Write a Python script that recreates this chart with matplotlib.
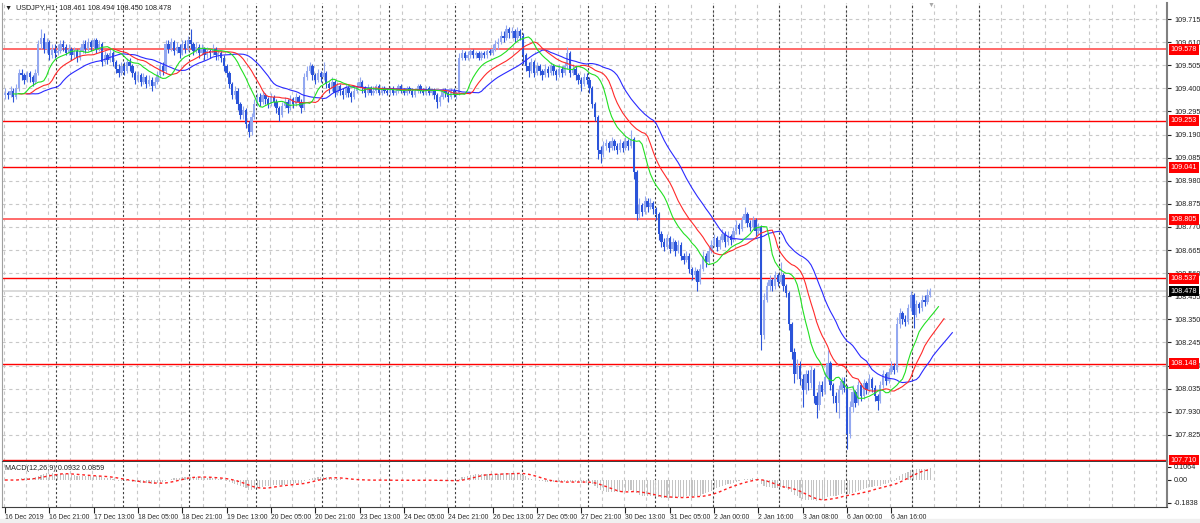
"""USDJPY H1 chart: candles, Alligator, support/resistance levels and MACD panel."""

import matplotlib

matplotlib.use("Agg")
import matplotlib.pyplot as plt
import numpy as np
import pandas as pd
from matplotlib.patches import Rectangle

plt.rcParams["font.family"] = ["Liberation Sans", "DejaVu Sans"]

# ---- data (hourly bars, 16 Dec 2019 05:00 onwards) ----
FIRST_OPEN = 109.37
CLOSE = [
    # 16 Dec
    109.38, 109.37, 109.39, 109.36, 109.40, 109.47, 109.46, 109.44, 109.47, 109.45, 109.43, 109.47, 109.60, 109.63, 109.58, 109.61, 109.55, 109.58, 109.56,
    # 17 Dec
    109.57, 109.60, 109.59, 109.56, 109.58, 109.55, 109.57, 109.54, 109.57, 109.60, 109.58, 109.61, 109.59, 109.62, 109.58, 109.60, 109.52, 109.55, 109.53, 109.56, 109.52, 109.49, 109.47, 109.50,
    # 18 Dec
    109.48, 109.52, 109.50, 109.47, 109.44, 109.46, 109.43, 109.45, 109.42, 109.44, 109.41, 109.43, 109.46, 109.50, 109.48, 109.60, 109.58, 109.61, 109.57, 109.59, 109.56, 109.60, 109.58, 109.62,
    # 19 Dec
    109.60, 109.57, 109.59, 109.56, 109.58, 109.55, 109.57, 109.56, 109.58, 109.55, 109.56, 109.54, 109.50, 109.47, 109.42, 109.37, 109.39, 109.33, 109.28, 109.30, 109.24, 109.20, 109.27, 109.33,
    # 20 Dec
    109.36, 109.34, 109.37, 109.35, 109.33, 109.36, 109.34, 109.31, 109.28, 109.32, 109.34, 109.31, 109.35, 109.33, 109.36, 109.34, 109.31, 109.45, 109.48, 109.50, 109.46, 109.44, 109.47, 109.45,
    # 23 Dec
    109.47, 109.42, 109.40, 109.43, 109.38, 109.41, 109.39, 109.37, 109.40, 109.38, 109.36, 109.39, 109.41, 109.43, 109.40, 109.38, 109.40, 109.38, 109.39, 109.41, 109.38, 109.40, 109.39, 109.38,
    # 24 Dec
    109.40, 109.38, 109.39, 109.41, 109.39, 109.38, 109.40, 109.39, 109.37, 109.39, 109.41, 109.39, 109.38, 109.40, 109.38, 109.39, 109.37, 109.34, 109.36, 109.39, 109.38, 109.36, 109.39, 109.37,
    # 26 Dec
    109.38, 109.54, 109.56, 109.54, 109.55, 109.57, 109.55, 109.56, 109.54, 109.56, 109.55, 109.57, 109.56, 109.58, 109.60, 109.61, 109.64, 109.63, 109.67, 109.65, 109.66, 109.63, 109.66, 109.64,
    # 27 Dec
    109.55, 109.50, 109.48, 109.52, 109.47, 109.50, 109.48, 109.46, 109.49, 109.47, 109.50, 109.48, 109.46, 109.49, 109.47, 109.50, 109.56, 109.47, 109.49, 109.46, 109.44, 109.42, 109.45, 109.44,
    # 30 Dec
    109.40, 109.33, 109.27, 109.12, 109.10, 109.14, 109.15, 109.13, 109.16, 109.14, 109.12, 109.15, 109.13, 109.16, 109.14, 109.17, 109.02, 108.83, 108.87, 108.84, 108.89, 108.86, 108.88, 108.85,
    # 31 Dec
    108.83, 108.74, 108.70, 108.68, 108.72, 108.67, 108.70, 108.66, 108.69, 108.64, 108.62, 108.64, 108.58, 108.55, 108.57, 108.52, 108.58, 108.64, 108.61, 108.66, 108.69,
    # 2 Jan
    108.72, 108.68, 108.71, 108.74, 108.70, 108.73, 108.71, 108.75, 108.78, 108.76, 108.80, 108.83, 108.79, 108.77, 108.80, 108.75, 108.77, 108.28, 108.44, 108.50, 108.53, 108.50, 108.55, 108.52,
    # 3 Jan
    108.55, 108.50, 108.47, 108.33, 108.20, 108.10, 108.14, 108.08, 108.03, 108.10, 108.06, 108.12, 108.00, 107.96, 108.05, 108.02, 108.09, 108.15, 108.05, 108.00, 107.97, 108.03, 108.07, 108.04,
    # 6 Jan
    107.83, 107.95, 108.02, 107.97, 108.05, 108.00, 108.06, 108.03, 108.08, 108.04, 108.00, 107.98, 108.05, 108.10, 108.07, 108.11, 108.14, 108.12, 108.33, 108.38, 108.35, 108.34, 108.40, 108.46,
    # 7 Jan
    108.37, 108.42, 108.40, 108.44, 108.43, 108.461, 108.478,
]
HIGH = [
    109.40, 109.39, 109.41, 109.40, 109.42, 109.49, 109.49, 109.47, 109.48, 109.48, 109.46, 109.49, 109.62, 109.67, 109.65, 109.63, 109.62, 109.60, 109.60,
    109.60, 109.62, 109.62, 109.60, 109.60, 109.59, 109.59, 109.58, 109.59, 109.62, 109.62, 109.63, 109.62, 109.63, 109.63, 109.62, 109.61, 109.57, 109.56, 109.58, 109.57, 109.53, 109.51, 109.52,
    109.52, 109.54, 109.54, 109.51, 109.48, 109.48, 109.47, 109.47, 109.46, 109.46, 109.45, 109.45, 109.48, 109.52, 109.52, 109.62, 109.62, 109.63, 109.62, 109.61, 109.60, 109.62, 109.62, 109.64,
    109.67, 109.61, 109.61, 109.60, 109.60, 109.59, 109.59, 109.58, 109.60, 109.59, 109.58, 109.57, 109.55, 109.51, 109.48, 109.43, 109.41, 109.40, 109.34, 109.32, 109.31, 109.25, 109.29, 109.35,
    109.38, 109.38, 109.39, 109.38, 109.36, 109.38, 109.37, 109.35, 109.32, 109.34, 109.36, 109.35, 109.37, 109.36, 109.38, 109.37, 109.35, 109.47, 109.50, 109.52, 109.51, 109.47, 109.49, 109.48,
    109.52, 109.48, 109.43, 109.45, 109.44, 109.43, 109.42, 109.40, 109.42, 109.41, 109.39, 109.41, 109.43, 109.45, 109.44, 109.41, 109.42, 109.41, 109.41, 109.42, 109.42, 109.41, 109.41, 109.40,
    109.41, 109.41, 109.40, 109.42, 109.42, 109.40, 109.41, 109.41, 109.40, 109.40, 109.42, 109.42, 109.40, 109.41, 109.41, 109.40, 109.40, 109.38, 109.37, 109.40, 109.40, 109.39, 109.40, 109.40,
    109.39, 109.56, 109.58, 109.57, 109.57, 109.58, 109.58, 109.57, 109.57, 109.57, 109.57, 109.58, 109.58, 109.60, 109.62, 109.63, 109.66, 109.66, 109.69, 109.68, 109.68, 109.67, 109.68, 109.67,
    109.65, 109.56, 109.52, 109.54, 109.53, 109.52, 109.51, 109.49, 109.51, 109.50, 109.52, 109.51, 109.49, 109.51, 109.50, 109.52, 109.59, 109.57, 109.51, 109.50, 109.47, 109.45, 109.47, 109.47,
    109.45, 109.41, 109.34, 109.28, 109.14, 109.16, 109.17, 109.16, 109.18, 109.17, 109.15, 109.17, 109.16, 109.18, 109.17, 109.21, 109.18, 109.03, 108.90, 108.88, 108.91, 108.90, 108.90, 108.89,
    108.86, 108.84, 108.75, 108.72, 108.74, 108.73, 108.72, 108.71, 108.71, 108.70, 108.65, 108.66, 108.65, 108.59, 108.59, 108.58, 108.60, 108.66, 108.65, 108.68, 108.71,
    108.74, 108.73, 108.73, 108.76, 108.75, 108.75, 108.74, 108.77, 108.80, 108.79, 108.82, 108.86, 108.84, 108.80, 108.82, 108.81, 108.79, 108.78, 108.47, 108.52, 108.55, 108.54, 108.57, 108.56,
    108.61, 108.56, 108.51, 108.48, 108.34, 108.22, 108.17, 108.16, 108.10, 108.12, 108.12, 108.14, 108.13, 108.02, 108.07, 108.07, 108.11, 108.21, 108.16, 108.06, 108.02, 108.05, 108.09, 108.09,
    108.05, 107.98, 108.05, 108.03, 108.07, 108.06, 108.08, 108.07, 108.10, 108.09, 108.05, 108.01, 108.07, 108.12, 108.11, 108.13, 108.16, 108.15, 108.36, 108.40, 108.39, 108.37, 108.42, 108.48,
    108.47, 108.44, 108.43, 108.46, 108.46, 108.49, 108.494,
]
LOW = [
    109.35, 109.35, 109.36, 109.34, 109.35, 109.39, 109.44, 109.42, 109.43, 109.43, 109.41, 109.42, 109.46, 109.58, 109.56, 109.56, 109.53, 109.54, 109.54,
    109.55, 109.56, 109.57, 109.55, 109.55, 109.53, 109.54, 109.52, 109.53, 109.56, 109.56, 109.57, 109.57, 109.58, 109.56, 109.57, 109.50, 109.51, 109.51, 109.52, 109.50, 109.47, 109.45, 109.46,
    109.46, 109.47, 109.48, 109.45, 109.42, 109.43, 109.41, 109.42, 109.40, 109.41, 109.39, 109.40, 109.42, 109.45, 109.46, 109.47, 109.56, 109.57, 109.55, 109.56, 109.54, 109.55, 109.56, 109.57,
    109.58, 109.55, 109.56, 109.54, 109.55, 109.53, 109.54, 109.54, 109.55, 109.53, 109.53, 109.52, 109.48, 109.45, 109.40, 109.35, 109.35, 109.30, 109.26, 109.26, 109.22, 109.18, 109.19, 109.26,
    109.32, 109.32, 109.33, 109.33, 109.31, 109.32, 109.32, 109.29, 109.25, 109.27, 109.31, 109.29, 109.30, 109.31, 109.32, 109.32, 109.29, 109.30, 109.44, 109.47, 109.44, 109.42, 109.43, 109.43,
    109.44, 109.40, 109.38, 109.39, 109.36, 109.37, 109.37, 109.35, 109.36, 109.36, 109.34, 109.35, 109.38, 109.40, 109.38, 109.36, 109.37, 109.37, 109.37, 109.38, 109.37, 109.37, 109.38, 109.37,
    109.37, 109.37, 109.37, 109.38, 109.38, 109.37, 109.37, 109.38, 109.36, 109.36, 109.38, 109.38, 109.37, 109.37, 109.37, 109.37, 109.35, 109.31, 109.32, 109.35, 109.36, 109.34, 109.35, 109.36,
    109.35, 109.37, 109.53, 109.53, 109.53, 109.54, 109.54, 109.54, 109.53, 109.53, 109.54, 109.54, 109.55, 109.55, 109.57, 109.58, 109.60, 109.61, 109.62, 109.63, 109.63, 109.61, 109.62, 109.62,
    109.51, 109.48, 109.45, 109.47, 109.45, 109.46, 109.46, 109.44, 109.45, 109.45, 109.46, 109.46, 109.44, 109.45, 109.45, 109.46, 109.49, 109.45, 109.46, 109.44, 109.42, 109.39, 109.41, 109.42,
    109.38, 109.31, 109.25, 109.08, 109.06, 109.09, 109.12, 109.11, 109.12, 109.12, 109.10, 109.11, 109.11, 109.12, 109.12, 109.13, 108.99, 108.80, 108.81, 108.82, 108.83, 108.84, 108.85, 108.83,
    108.80, 108.71, 108.68, 108.66, 108.67, 108.65, 108.66, 108.64, 108.65, 108.62, 108.60, 108.61, 108.56, 108.53, 108.53, 108.48, 108.51, 108.57, 108.59, 108.60, 108.65,
    108.68, 108.66, 108.67, 108.70, 108.68, 108.69, 108.69, 108.70, 108.74, 108.74, 108.75, 108.79, 108.77, 108.75, 108.76, 108.73, 108.74, 108.21, 108.26, 108.43, 108.48, 108.48, 108.49, 108.50,
    108.51, 108.48, 108.45, 108.30, 108.17, 108.06, 108.08, 108.05, 107.95, 108.01, 108.03, 108.04, 107.97, 107.90, 107.94, 108.00, 108.01, 108.07, 108.03, 107.97, 107.93, 107.90, 108.01, 108.02,
    107.76, 107.81, 107.93, 107.95, 107.96, 107.98, 107.99, 108.01, 108.02, 108.02, 107.98, 107.94, 107.97, 108.04, 108.05, 108.06, 108.10, 108.10, 108.11, 108.31, 108.33, 108.32, 108.33, 108.39,
    108.31, 108.36, 108.38, 108.39, 108.41, 108.42, 108.450,
]

LEVELS = [109.578, 109.253, 109.041, 108.805, 108.537, 108.148, 107.710]
SOFT_LEVELS = [109.578, 108.805]
LAST_PRICE = 108.478

PRICE_TICKS = [107.825, 107.930, 108.035, 108.140, 108.245, 108.350, 108.455, 108.560, 108.665,
               108.770, 108.875, 108.980, 109.085, 109.190, 109.295, 109.400, 109.505, 109.610, 109.715]
MACD_TICKS = [0.1064, 0.0, -0.1838]
MACD_TICK_LABELS = ["0.1064", "0.00", "-0.1838"]

TIME_POS = list(range(0, 321, 16))
TIME_LABELS = ["16 Dec 2019", "16 Dec 21:00", "17 Dec 13:00", "18 Dec 05:00", "18 Dec 21:00",
               "19 Dec 13:00", "20 Dec 05:00", "20 Dec 21:00", "23 Dec 13:00", "24 Dec 05:00",
               "24 Dec 21:00", "26 Dec 13:00", "27 Dec 05:00", "27 Dec 21:00", "30 Dec 13:00",
               "31 Dec 05:00", "2 Jan 00:00", "2 Jan 16:00", "3 Jan 08:00", "6 Jan 00:00", "6 Jan 16:00"]
DAY_STARTS = [19, 43, 67, 91, 115, 139, 163, 187, 211, 235, 256, 280, 304, 328, 352]

BULL = "#93a8f0"
BEAR = "#2b54d9"
W, H = 1200, 523
FS = 5.2
FS_X = 4.9


def smma(values, n):
    return pd.Series(values).ewm(alpha=1.0 / n, adjust=False).mean().values


def main():
    close = np.array(CLOSE)
    high = np.array(HIGH)
    low = np.array(LOW)
    opn = np.concatenate([[FIRST_OPEN], close[:-1]])
    idx = np.arange(len(close))

    fig = plt.figure(figsize=(W / 100, H / 100), dpi=100)
    fig.patches.append(Rectangle((0, 0), 1, 4 / H, transform=fig.transFigure, color="#f0f0f0", zorder=0))

    def px_axes(x0, y0, x1, y1):
        return fig.add_axes([x0 / W, 1 - y1 / H, (x1 - x0) / W, (y1 - y0) / H])

    ax = px_axes(2, 3, 1167, 461)
    am = px_axes(2, 462, 1167, 507)
    xlim = (-1.08, 419.5)

    for a in (ax, am):
        a.set_xlim(*xlim)
        for k in range(0, 54):
            a.axvline(8 * k - 0.5, color="#c8c8c8", lw=0.8, ls=(0, (3, 3)), zorder=0)
        for d in DAY_STARTS:
            a.axvline(d - 0.5, color="#404040", lw=0.8, ls=(0, (2, 2)), zorder=0.5)
        a.spines["top"].set_visible(False)
        a.spines["left"].set_color("#a0a0a0")
        a.spines["right"].set_color("#808080")
        a.spines["right"].set_linewidth(1.5)
        a.spines["bottom"].set_color("#404040")
        a.yaxis.tick_right()
        a.tick_params(axis="y", length=3, width=0.8, labelsize=FS, pad=2, colors="#202020")

    # ---- main price panel ----
    ax.set_ylim(107.706, 109.788)
    ax.set_yticks(PRICE_TICKS)
    ax.set_yticklabels([f"{t:.3f}" for t in PRICE_TICKS])
    ax.set_xticks([])
    for t in PRICE_TICKS:
        ax.axhline(t, color="#c8c8c8", lw=0.8, ls=(0, (3, 3)), zorder=0)

    for lvl in LEVELS:
        soft = lvl in SOFT_LEVELS
        ax.axhline(lvl, color="#ff6a6a" if soft else "#ff0000", lw=1.4 if soft else 1.0, zorder=1)
        ax.text(1.003, lvl, f"{lvl:.3f}", transform=ax.get_yaxis_transform(), ha="left", va="center",
                fontsize=FS, color="white", clip_on=False, zorder=5,
                bbox=dict(boxstyle="square,pad=0.25", fc="#ff0000", ec="none"))
    ax.axhline(LAST_PRICE, color="#d4d4d4", lw=1.2, zorder=0.8)
    ax.text(1.003, LAST_PRICE, f"{LAST_PRICE:.3f}", transform=ax.get_yaxis_transform(), ha="left",
            va="center", fontsize=FS, color="white", clip_on=False, zorder=5,
            bbox=dict(boxstyle="square,pad=0.25", fc="black", ec="none"))

    up = close >= opn
    for mask, col in ((up, BULL), (~up, BEAR)):
        ax.vlines(idx[mask], low[mask], high[mask], color=col, lw=0.8, zorder=2)
        body = np.maximum(np.abs(close[mask] - opn[mask]), 0.003)
        ax.bar(idx[mask], body, bottom=np.minimum(close[mask], opn[mask]), width=0.85,
               color=col, lw=0, zorder=2)

    # Alligator (SMMA of median price, shifted forward)
    median = (high + low) / 2
    ax.plot(idx + 8, smma(median, 13), color="#2a2aff", lw=0.8, zorder=3)
    ax.plot(idx + 5, smma(median, 8), color="#ff2a2a", lw=0.8, zorder=3)
    ax.plot(idx + 3, smma(median, 5), color="#22e022", lw=0.8, zorder=3)

    # ---- MACD panel ----
    cs = pd.Series(close)
    macd = cs.ewm(span=12, adjust=False).mean() - cs.ewm(span=26, adjust=False).mean()
    signal = macd.rolling(9, min_periods=1).mean()
    am.bar(idx, macd.values, width=0.4, color="#c4c4c4", lw=0, zorder=2)
    am.plot(idx, signal.values, color="#ff2020", lw=1, ls=(0, (2, 2)), zorder=3)
    am.set_ylim(-0.219, 0.146)
    am.set_yticks(MACD_TICKS)
    am.set_yticklabels(MACD_TICK_LABELS)
    am.set_xticks(TIME_POS)
    am.set_xticklabels(TIME_LABELS, ha="left", fontsize=FS_X)
    am.tick_params(axis="x", length=4, width=0.8, pad=1, colors="#202020")

    fig.text(5 / W, 1 - 8 / H, "\u25bc  USDJPY,H1  108.461 108.494 108.450 108.478", fontsize=FS,
             va="center", ha="left", color="#202020")
    fig.text(5 / W, 1 - 468 / H, "MACD(12,26,9) 0.0932 0.0859", fontsize=FS,
             va="center", ha="left", color="#202020")
    fig.text(931 / W, 1 - 5 / H, "\u25bc", fontsize=5, color="#a8a8a8", ha="center", va="center")

    fig.savefig("out.png", dpi=100)


if __name__ == "__main__":
    main()
